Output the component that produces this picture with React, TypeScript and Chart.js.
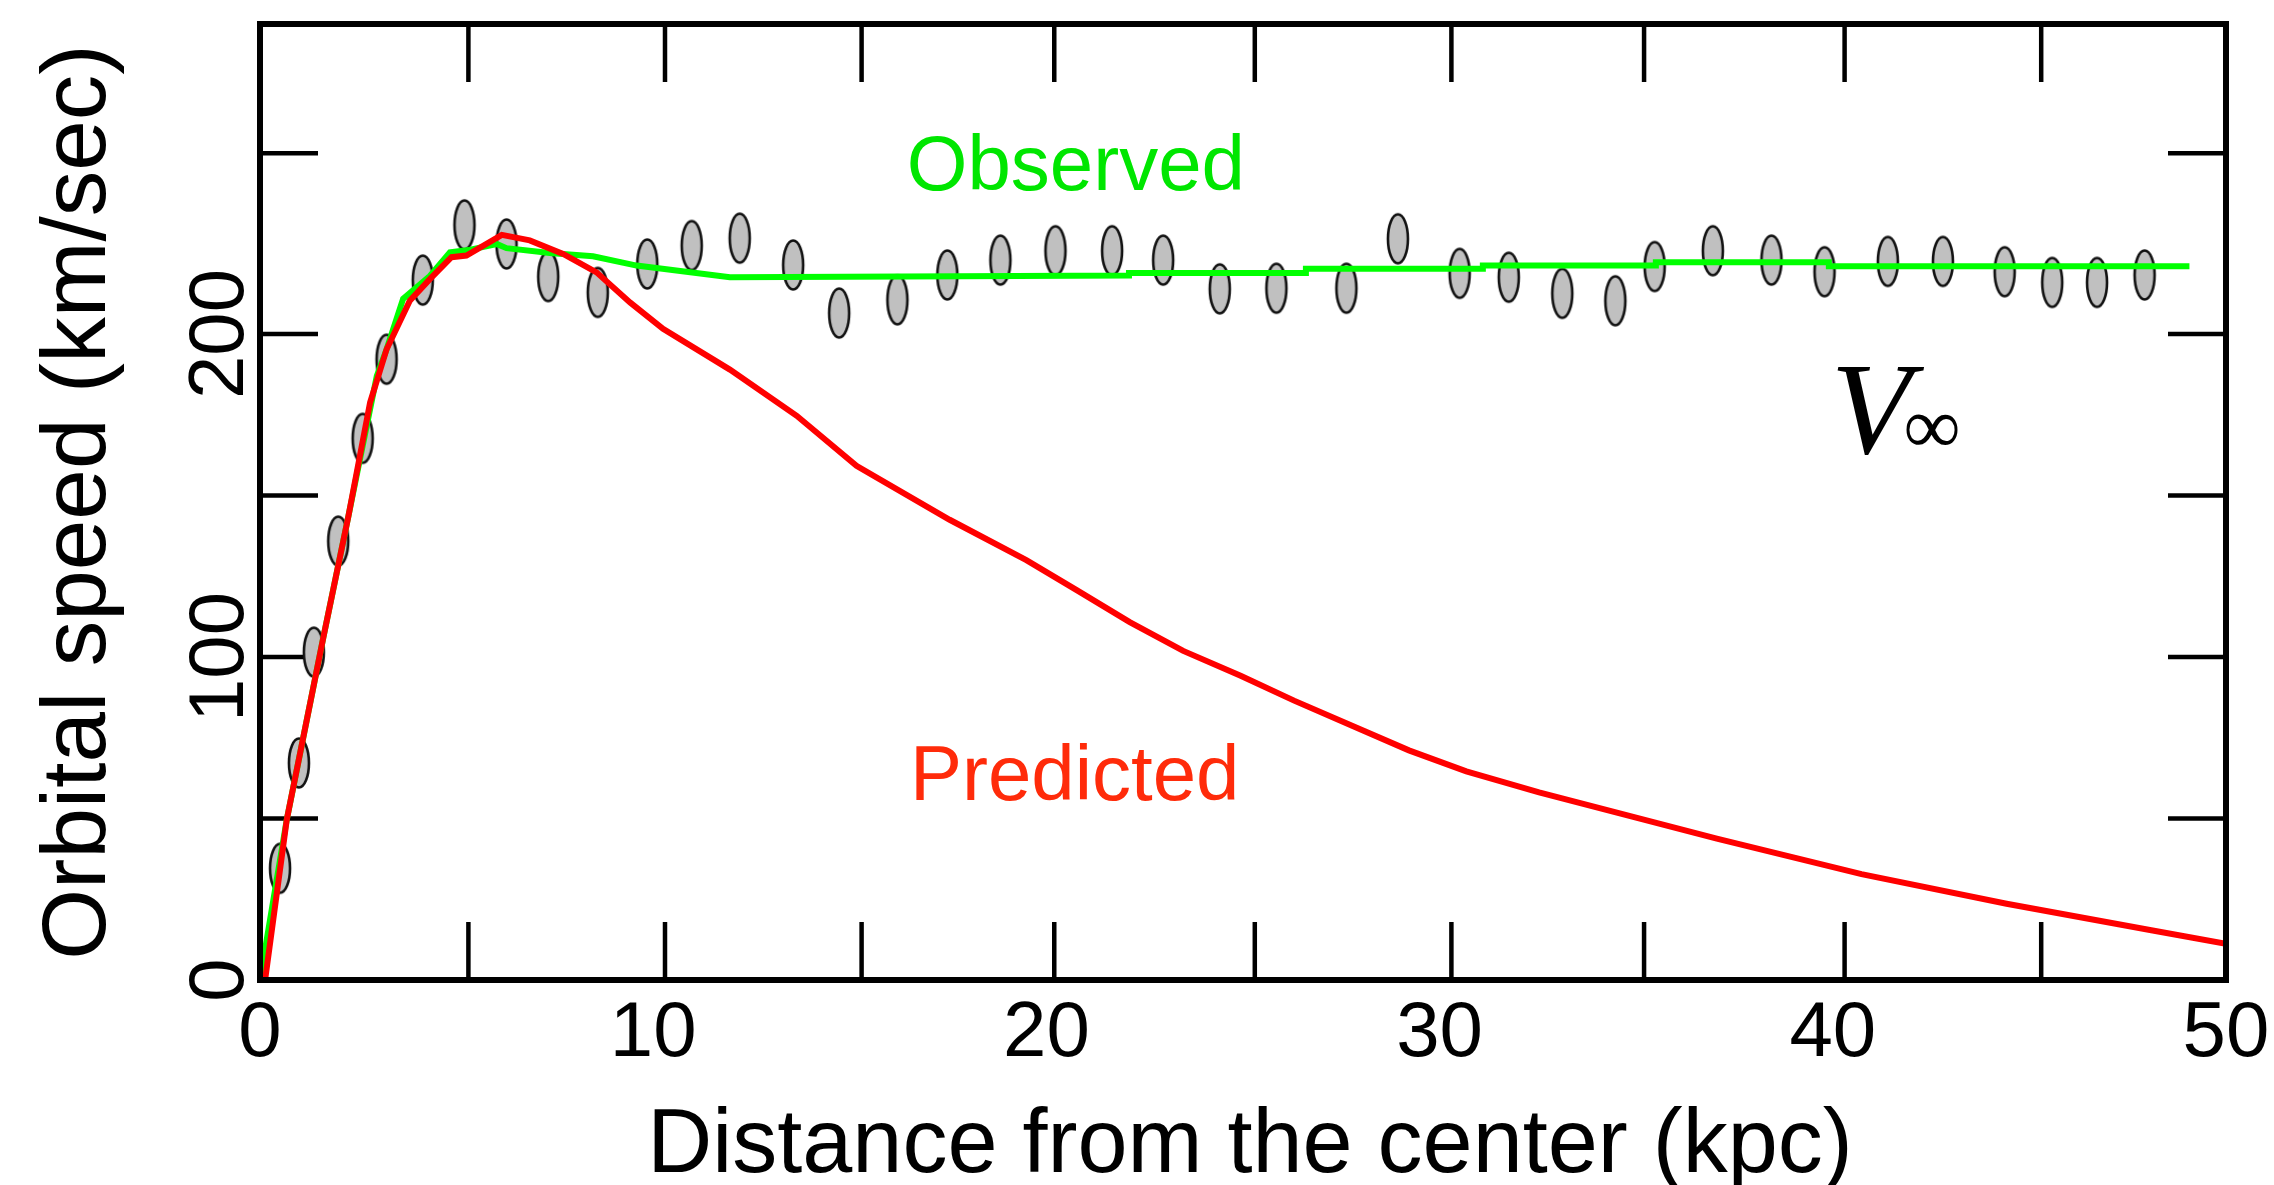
import React, { useEffect, useRef } from 'react';
import { Chart, registerables } from 'chart.js';

Chart.register(...registerables);

// Observed data points (distance in kpc, orbital speed in km/s)
const OBS_R = [0.51, 0.99, 1.37, 1.99, 2.61, 3.22, 4.14, 5.2, 6.27, 7.33, 8.59, 9.85, 10.98, 12.2, 13.56, 14.73, 16.21, 17.48, 18.83, 20.23, 21.67, 22.97, 24.41, 25.85, 27.63, 28.94, 30.51, 31.76, 33.12, 34.47, 35.47, 36.95, 38.44, 39.79, 41.4, 42.8, 44.37, 45.58, 46.72, 47.93];
const OBS_V = [34.6, 67.2, 101.5, 135.9, 167.7, 192.2, 216.7, 233.8, 227.9, 217.8, 212.9, 221.7, 227.4, 229.7, 221.4, 206.5, 210.6, 218.3, 222.9, 225.8, 225.8, 222.9, 214, 214.2, 214.2, 229.5, 218.8, 217.6, 212.6, 210.3, 220.9, 225.8, 222.9, 219.3, 222.5, 222.5, 219.3, 216, 216, 218.3];

// Observed (fitted) curve
const FIT_R = [0, 0.68, 1.61, 2.25, 2.97, 3.22, 3.64, 4.32, 4.83, 5.3, 6.02, 6.27, 7.37, 8.47, 9.58, 11.95, 22.1, 22.1, 26.6, 26.6, 31.1, 31.1, 35.5, 35.5, 39.9, 39.9, 49.07];
const FIT_V = [0, 49.6, 106, 143.7, 187, 195.3, 210.9, 218, 225.3, 226, 227.9, 226.6, 225.1, 224.1, 221.2, 217.6, 218.1, 218.9, 218.9, 220.2, 220.2, 221.2, 221.2, 222.2, 222.2, 221, 221];

// Predicted curve
const PRED_R = [0.13, 0.68, 1.61, 2.25, 2.8, 3.22, 3.81, 4.32, 4.87, 5.25, 6.15, 6.86, 7.71, 8.56, 9.41, 10.25, 11.95, 13.65, 15.17, 17.54, 19.49, 20.76, 22.12, 23.48, 24.94, 26.3, 27.76, 29.22, 30.68, 32.53, 37.05, 40.73, 44.42, 48.1, 50];
const PRED_V = [0, 49.6, 106, 143.7, 178.8, 195.3, 210.3, 217, 223.8, 224.3, 230.7, 229, 224.8, 219.1, 209.8, 201.6, 189, 174.7, 159.2, 142.5, 130, 120.8, 110.8, 101.9, 94.2, 86.5, 78.8, 71.1, 64.6, 58.1, 43.8, 32.8, 23.6, 15.4, 11.2];

// Axes
const X_MIN = 0;
const X_MAX = 50;
const Y_MIN = 0;
const Y_MAX = 296;
const X_TICK_LABELS = [0, 10, 20, 30, 40, 50];
const Y_TICK_LABELS = [0, 100, 200];
const X_TICK_MARKS = [5.3, 10.3, 15.3, 20.2, 25.3, 30.3, 35.2, 40.3, 45.3];
const Y_TICK_MARKS = [50, 100, 150, 200, 256];
const X_TITLE = 'Distance from the center (kpc)';
const Y_TITLE = 'Orbital speed (km/sec)';

// Annotations (data coordinates of the text's left baseline)
const NOTE_OBSERVED = { text: 'Observed', x: 16.45, y: 244.6 };
const NOTE_PREDICTED = { text: 'Predicted', x: 16.53, y: 55.7 };
const NOTE_VINF = { x: 39.95, xInf: 41.8, y: 163.2 };

const SANS = '"Liberation Sans", Arial, Helvetica, sans-serif';
const SERIF = '"Liberation Serif", "DejaVu Serif", "Times New Roman", serif';

const decorPlugin = {
  id: 'decor',
  beforeDatasetsDraw(chart: any) {
    const { ctx, chartArea: a, scales } = chart;
    const xs = scales.x;
    const ys = scales.y;
    const len = 58;
    ctx.save();
    ctx.strokeStyle = '#000';
    ctx.lineCap = 'butt';
    ctx.lineWidth = 4.5;
    const seg = (x1: number, y1: number, x2: number, y2: number) => {
      ctx.beginPath();
      ctx.moveTo(x1, y1);
      ctx.lineTo(x2, y2);
      ctx.stroke();
    };
    for (const v of X_TICK_MARKS) {
      const px = xs.getPixelForValue(v);
      seg(px, a.bottom, px, a.bottom - len);
      seg(px, a.top, px, a.top + len);
    }
    for (const v of Y_TICK_MARKS) {
      const py = ys.getPixelForValue(v);
      seg(a.left, py, a.left + len, py);
      seg(a.right, py, a.right - len, py);
    }
    ctx.restore();
  },
  afterDraw(chart: any) {
    const { ctx, chartArea: a, scales } = chart;
    const xs = scales.x;
    const ys = scales.y;
    ctx.save();
    // frame
    ctx.strokeStyle = '#000';
    ctx.lineWidth = 6;
    ctx.strokeRect(a.left, a.top, a.right - a.left, a.bottom - a.top);

    ctx.fillStyle = '#000';
    // x tick labels
    ctx.font = `78px ${SANS}`;
    ctx.textAlign = 'center';
    ctx.textBaseline = 'alphabetic';
    for (const v of X_TICK_LABELS) {
      ctx.fillText(String(v), xs.getPixelForValue(v), a.bottom + 76);
    }
    // y tick labels (rotated)
    for (const v of Y_TICK_LABELS) {
      ctx.save();
      ctx.translate(a.left - 17, ys.getPixelForValue(v));
      ctx.rotate(-Math.PI / 2);
      ctx.fillText(String(v), 0, 0);
      ctx.restore();
    }
    // axis titles
    ctx.font = `90px ${SANS}`;
    ctx.fillText(X_TITLE, (a.left + a.right) / 2 + 7, a.bottom + 192);
    ctx.save();
    ctx.font = `91px ${SANS}`;
    ctx.translate(a.left - 155, (a.top + a.bottom) / 2);
    ctx.rotate(-Math.PI / 2);
    ctx.fillText(Y_TITLE, 0, 0);
    ctx.restore();

    // annotations
    ctx.textAlign = 'left';
    ctx.font = `78px ${SANS}`;
    ctx.fillStyle = '#00e600';
    ctx.fillText(NOTE_OBSERVED.text, xs.getPixelForValue(NOTE_OBSERVED.x), ys.getPixelForValue(NOTE_OBSERVED.y));
    ctx.fillStyle = '#ff2b0a';
    ctx.fillText(NOTE_PREDICTED.text, xs.getPixelForValue(NOTE_PREDICTED.x), ys.getPixelForValue(NOTE_PREDICTED.y));

    ctx.fillStyle = '#000';
    ctx.font = `italic 132px ${SERIF}`;
    ctx.fillText('V', xs.getPixelForValue(NOTE_VINF.x), ys.getPixelForValue(NOTE_VINF.y));
    ctx.font = `80px ${SERIF}`;
    ctx.fillText('\u221E', xs.getPixelForValue(NOTE_VINF.xInf), ys.getPixelForValue(NOTE_VINF.y));
    ctx.restore();
  },
};

export default function App() {
  const ref = useRef<HTMLCanvasElement>(null);

  useEffect(() => {
    const canvas = ref.current;
    if (!canvas) return;

    const marker = document.createElement('canvas');
    marker.width = 26;
    marker.height = 54;
    const m = marker.getContext('2d');
    if (m) {
      m.beginPath();
      m.ellipse(13, 27, 10, 24.5, 0, 0, Math.PI * 2);
      m.fillStyle = '#c0c0c0';
      m.fill();
      m.lineWidth = 2.6;
      m.strokeStyle = '#111';
      m.stroke();
    }

    const chart = new Chart(canvas, {
      type: 'scatter',
      data: {
        datasets: [
          {
            label: 'Predicted',
            data: PRED_R.map((r, i) => ({ x: r, y: PRED_V[i] })),
            showLine: true,
            borderColor: '#ff0000',
            backgroundColor: '#ff0000',
            borderWidth: 6,
            pointRadius: 0,
            tension: 0,
            order: 0,
          },
          {
            label: 'Observed curve',
            data: FIT_R.map((r, i) => ({ x: r, y: FIT_V[i] })),
            showLine: true,
            borderColor: '#00ff00',
            backgroundColor: '#00ff00',
            borderWidth: 6,
            pointRadius: 0,
            tension: 0,
            order: 1,
          },
          {
            label: 'Observed',
            data: OBS_R.map((r, i) => ({ x: r, y: OBS_V[i] })),
            showLine: false,
            pointStyle: marker as any,
            pointRadius: 12,
            order: 2,
          },
        ],
      },
      options: {
        responsive: false,
        animation: false,
        devicePixelRatio: 1,
        events: [],
        layout: { padding: { left: 0, right: 48, top: 24, bottom: 0 } },
        plugins: {
          legend: { display: false },
          tooltip: { enabled: false },
        },
        scales: {
          x: {
            type: 'linear',
            min: X_MIN,
            max: X_MAX,
            grid: { display: false },
            border: { display: false },
            ticks: { display: false },
            afterFit: (s: any) => {
              s.height = 205;
            },
          },
          y: {
            type: 'linear',
            min: Y_MIN,
            max: Y_MAX,
            grid: { display: false },
            border: { display: false },
            ticks: { display: false },
            afterFit: (s: any) => {
              s.width = 260;
            },
          },
        },
      },
      plugins: [decorPlugin],
    });

    return () => chart.destroy();
  }, []);

  return (
    <div style={{ position: 'absolute', left: 0, top: 0, width: 2274, height: 1185, background: '#fff' }}>
      <canvas ref={ref} width={2274} height={1185} style={{ display: 'block', width: 2274, height: 1185 }} />
    </div>
  );
}
